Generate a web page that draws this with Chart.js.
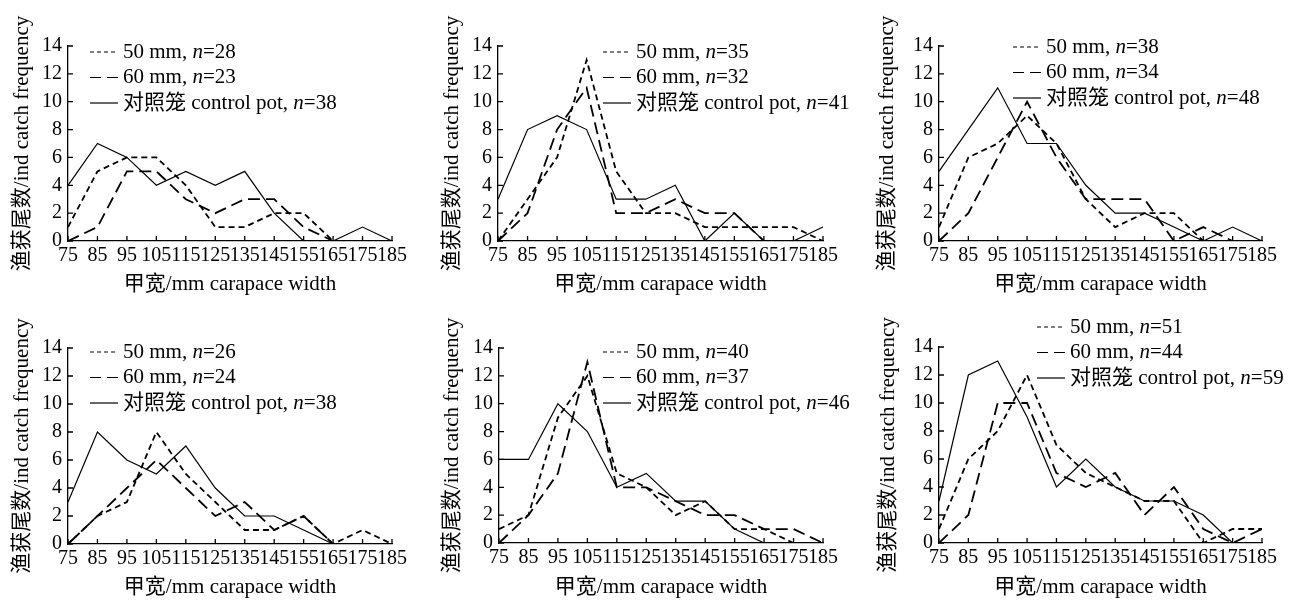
<!DOCTYPE html>
<html>
<head>
<meta charset="utf-8">
<script src="https://cdn.jsdelivr.net/npm/chart.js"></script>
<style>
  body { margin: 0; background: #fff; }
  #wrap { position: relative; width: 1302px; height: 601px; overflow: hidden; }
  #wrap canvas { position: absolute; }
</style>
</head>
<body>
<div id="wrap">
  <canvas id="c1"></canvas>
  <canvas id="c2"></canvas>
  <canvas id="c3"></canvas>
  <canvas id="c4"></canvas>
  <canvas id="c5"></canvas>
  <canvas id="c6"></canvas>
</div>
<script>
// carapace width classes (mm)
const widths = ['75', '85', '95', '105', '115', '125', '135', '145', '155', '165', '175', '185'];
const seriesNames = ['50 mm', '60 mm', '对照笼 control pot'];

// catch counts per panel: 50 mm pot, 60 mm pot, control pot
const a50 = [1, 5, 6, 6, 4, 1, 1, 2, 2, 0, 0, 0];
const a60 = [0, 1, 5, 5, 3, 2, 3, 3, 1, 0, 0, 0];
const aCtrl = [4, 7, 6, 4, 5, 4, 5, 2, 0, 0, 1, 0];
const aN = [28, 23, 38];

const b50 = [0, 3, 6, 13, 5, 2, 2, 1, 1, 1, 1, 0];
const b60 = [0, 2, 8, 11, 2, 2, 3, 2, 2, 0, 0, 0];
const bCtrl = [3, 8, 9, 8, 3, 3, 4, 0, 2, 0, 0, 1];
const bN = [35, 32, 41];

const c50 = [1, 6, 7, 9, 7, 3, 1, 2, 2, 0, 0, 0];
const c60 = [0, 2, 6, 10, 6, 3, 3, 3, 0, 1, 0, 0];
const cCtrl = [5, 8, 11, 7, 7, 4, 2, 2, 1, 0, 1, 0];
const cN = [38, 34, 48];

const d50 = [0, 2, 3, 8, 5, 3, 1, 1, 2, 0, 1, 0];
const d60 = [0, 2, 4, 6, 4, 2, 3, 1, 2, 0, 0, 0];
const dCtrl = [3, 8, 6, 5, 7, 4, 2, 2, 1, 0, 0, 0];
const dN = [26, 24, 38];

const e50 = [1, 2, 9, 12, 5, 4, 2, 3, 1, 1, 0, 0];
const e60 = [0, 2, 5, 13, 4, 4, 3, 2, 2, 1, 1, 0];
const eCtrl = [6, 6, 10, 8, 4, 5, 3, 3, 1, 0, 0, 0];
const eN = [40, 37, 46];

const f50 = [1, 6, 8, 12, 7, 5, 4, 3, 3, 0, 1, 1];
const f60 = [0, 2, 10, 10, 5, 4, 5, 2, 4, 1, 0, 1];
const fCtrl = [3, 12, 13, 9, 4, 6, 4, 3, 3, 2, 0, 0];
const fN = [51, 44, 59];

const FONT = '"Liberation Serif", "Noto Sans CJK SC", serif';

const panels = [
  { id: 'c1', left: 0,   top: 0,   w: 430, h: 300, area: [68, 46, 392, 241], lg: [22, 6],   tx: 10, xb: 3, data: [a50, a60, aCtrl], n: aN },
  { id: 'c2', left: 430, top: 0,   w: 430, h: 300, area: [68, 46, 393, 241], lg: [105, 6],  tx: 10, xb: 3, data: [b50, b60, bCtrl], n: bN },
  { id: 'c3', left: 860, top: 0,   w: 442, h: 300, area: [79, 46, 402, 241], lg: [74, 1],   tx: 15, xb: 3, data: [c50, c60, cCtrl], n: cN },
  { id: 'c4', left: 0,   top: 300, w: 430, h: 301, area: [68, 48, 392, 244], lg: [22, 4],   tx: 10, xb: 1, data: [d50, d60, dCtrl], n: dN },
  { id: 'c5', left: 430, top: 300, w: 430, h: 301, area: [69, 48, 393, 243], lg: [104, 4],  tx: 10, xb: 1, data: [e50, e60, eCtrl], n: eN },
  { id: 'c6', left: 860, top: 300, w: 442, h: 301, area: [79, 47, 402, 243], lg: [98, -20], tx: 16, xb: 1, data: [f50, f60, fCtrl], n: fN }
];

const lineDash = [[6, 4], [12, 6], []];
const legendDash = [[4, 3], [11, 6], []];
const lineWidths = [1.8, 1.8, 1.2];

// inward tick marks and the in-plot legend
const extras = {
  id: 'extras',
  afterDraw(chart, args, opts) {
    const ctx = chart.ctx;
    const area = chart.chartArea;
    const xs = chart.scales.x, ys = chart.scales.y;
    ctx.save();
    ctx.strokeStyle = '#000';
    ctx.lineWidth = 1.3;
    ctx.beginPath();
    ys.ticks.forEach((t, i) => {
      const py = ys.getPixelForTick(i);
      ctx.moveTo(area.left, py);
      ctx.lineTo(area.left + 5, py);
    });
    xs.ticks.forEach((t, i) => {
      const px = xs.getPixelForTick(i);
      ctx.moveTo(px, area.bottom);
      ctx.lineTo(px, area.bottom - 5);
    });
    ctx.stroke();

    const lx = area.left + opts.dx;
    chart.data.datasets.forEach((ds, i) => {
      const cy = area.top + opts.dy + i * 25.5;
      ctx.setLineDash(legendDash[i]);
      ctx.lineWidth = 1.2;
      ctx.beginPath();
      ctx.moveTo(lx, cy);
      ctx.lineTo(lx + 28, cy);
      ctx.stroke();
      ctx.setLineDash([]);
      ctx.fillStyle = '#000';
      ctx.textBaseline = 'middle';
      let tx = lx + 33;
      const s1 = ds.label + ', ';
      ctx.font = '21px ' + FONT;
      ctx.fillText(s1, tx, cy);
      tx += ctx.measureText(s1).width;
      ctx.font = 'italic 21px ' + FONT;
      ctx.fillText('n', tx, cy);
      tx += ctx.measureText('n').width;
      ctx.font = '21px ' + FONT;
      ctx.fillText('=' + opts.n[i], tx, cy);
    });
    ctx.restore();
  }
};

panels.forEach(p => {
  const cv = document.getElementById(p.id);
  cv.width = p.w;
  cv.height = p.h;
  cv.style.left = p.left + 'px';
  cv.style.top = p.top + 'px';
  const [aL, aT, aR, aB] = p.area;

  new Chart(cv, {
    type: 'line',
    data: {
      labels: widths,
      datasets: p.data.map((vals, i) => ({
        label: seriesNames[i],
        data: vals,
        borderColor: '#000',
        borderWidth: lineWidths[i],
        borderDash: lineDash[i],
        pointRadius: 0,
        tension: 0,
        fill: false
      }))
    },
    options: {
      responsive: false,
      animation: false,
      events: [],
      layout: { padding: { left: 0, top: aT, right: p.w - aR, bottom: 0 } },
      plugins: {
        legend: { display: false },
        tooltip: { enabled: false },
        extras: { dx: p.lg[0], dy: p.lg[1], n: p.n }
      },
      scales: {
        x: {
          offset: false,
          grid: { drawOnChartArea: false, drawTicks: false },
          border: { display: true, color: '#000', width: 1.3 },
          ticks: { color: '#000', font: { family: FONT, size: 20 }, padding: 3, autoSkip: false, maxRotation: 0 },
          title: { display: true, text: '甲宽/mm carapace width', color: '#000', font: { family: FONT, size: 21 }, padding: { top: 0, bottom: p.xb } },
          afterFit: s => { s.height = p.h - aB; }
        },
        y: {
          min: 0,
          max: 14,
          grid: { drawOnChartArea: false, drawTicks: false },
          border: { display: true, color: '#000', width: 1.3 },
          ticks: { stepSize: 2, color: '#000', font: { family: FONT, size: 20 }, padding: 6 },
          title: { display: true, text: '渔获尾数/ind catch frequency', color: '#000', font: { family: FONT, size: 21 }, padding: { top: p.tx, bottom: 0 } },
          afterFit: s => { s.width = aL; }
        }
      }
    },
    plugins: [extras]
  });
});
</script>
</body>
</html>
